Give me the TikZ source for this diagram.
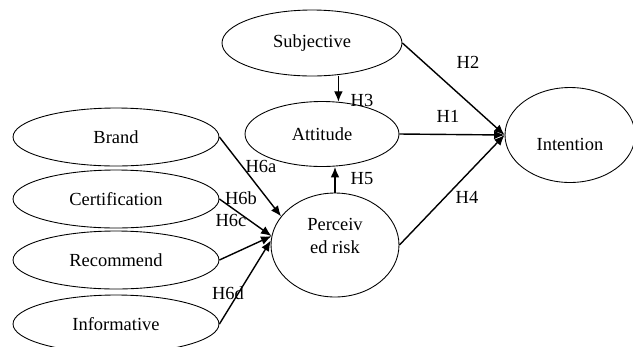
\documentclass[tikz,border=0pt]{standalone}
\usepackage{fontspec}
\setmainfont{Liberation Serif}
\usetikzlibrary{shapes.geometric,arrows.meta}
\tikzset{
  factor/.style={draw,ellipse,line width=0.5pt,inner sep=0pt},
  path/.style={line width=0.8pt,-{Latex[length=6pt,width=5pt]}},
  hyp/.style={inner sep=0pt}
}
\begin{document}
\begin{tikzpicture}[x=0.02cm,y=-0.02cm,font=\fontsize{10.5}{12}\selectfont]
  \useasboundingbox (0,0) rectangle (633,346);
  % constructs
  \node[factor,minimum width=3.6cm,minimum height=1.32cm] (subj) at (312,43) {Subjective};
  \node[factor,minimum width=3.08cm,minimum height=1.3cm] (att) at (322,134) {Attitude};
  \node[factor,minimum width=2.6cm,minimum height=1.9cm,align=center] (int) at (570,135) {\strut\\[-3pt]Intention};
  \node[factor,minimum width=2.56cm,minimum height=2.08cm,align=center] (perc) at (335,245) {Perceiv\\[1pt]ed risk\\[-2pt]};
  \foreach \n/\t/\y in {brand/Brand/137,cert/Certification/199,rec/Recommend/260,info/Informative/324}
    \node[factor,minimum width=4.12cm,minimum height=1.16cm] (\n) at (116,\y) {\t};
  % paths
  \draw[path] (subj.south -| att.63) -- (att.63);
  \draw[path] (perc.north) -- (perc.north |- att.south);
  \foreach \n in {subj,att,perc}
    \draw[path] (\n.east) -- (int.west);
  \foreach \n/\a in {brand/152,cert/172,rec/172,info/176}
    \draw[path] (\n.east) -- (perc.\a);
  % hypotheses
  \node[hyp] (h1) at (448,116) {H1};
  \node[hyp] (h2) at (468,62) {H2};
  \node[hyp] (h3) at (362,100) {H3};
  \node[hyp] (h4) at (467,197) {H4};
  \node[hyp] (h5) at (362,179) {H5};
  \node[hyp] (h6a) at (261,166) {H6a};
  \node[hyp] (h6b) at (241,198) {H6b};
  \node[hyp] (h6c) at (231,220) {H6c};
  \node[hyp] (h6d) at (228,293) {H6d};
\end{tikzpicture}
\end{document}
